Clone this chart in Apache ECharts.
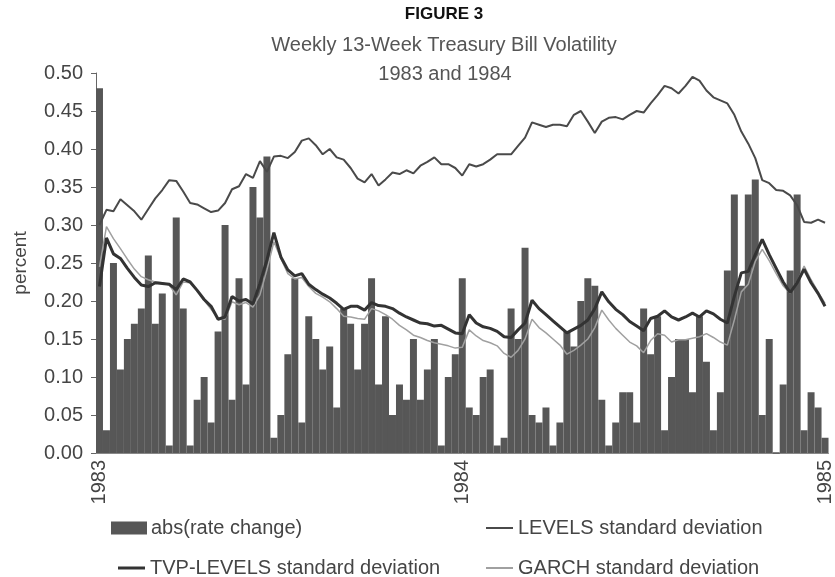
<!DOCTYPE html>
<html>
<head>
<meta charset="utf-8">
<title>Figure 3</title>
<script src="https://cdn.jsdelivr.net/npm/echarts@6/dist/echarts.min.js"></script>
<style>
  html, body { margin: 0; padding: 0; background: #fff; }
  #chart { width: 835px; height: 577px; }
</style>
</head>
<body>
<div id="chart"></div>
<script>
// weekly observations, 1983 and 1984
var yearLabels = ['1983', '1984', '1985'];
var yearTickIndex = [0, 52, 104];

var absRateChange = [
  0.48, 0.03, 0.25, 0.11, 0.15, 0.17, 0.19, 0.26, 0.17, 0.21,
  0.01, 0.31, 0.19, 0.01, 0.07, 0.10, 0.04, 0.16, 0.30, 0.07,
  0.23, 0.09, 0.35, 0.31, 0.39, 0.02, 0.05, 0.13, 0.23, 0.04,
  0.18, 0.15, 0.11, 0.14, 0.06, 0.19, 0.17, 0.11, 0.17, 0.23,
  0.09, 0.18, 0.05, 0.09, 0.07, 0.15, 0.07, 0.11, 0.15, 0.01,
  0.10, 0.13, 0.23, 0.06, 0.05, 0.10, 0.11, 0.01, 0.02, 0.19,
  0.15, 0.27, 0.05, 0.04, 0.06, 0.01, 0.04, 0.16, 0.14, 0.20,
  0.23, 0.22, 0.07, 0.01, 0.04, 0.08, 0.08, 0.04, 0.19, 0.13,
  0.18, 0.03, 0.10, 0.15, 0.15, 0.08, 0.18, 0.12, 0.03, 0.08,
  0.24, 0.34, 0.22, 0.34, 0.36, 0.05, 0.15, 0.00, 0.09, 0.24,
  0.34, 0.03, 0.08, 0.06, 0.02
];

var levelsSD = [
  0.300, 0.320, 0.318, 0.334, 0.326, 0.318, 0.307, 0.321, 0.335, 0.346,
  0.359, 0.358, 0.344, 0.329, 0.327, 0.322, 0.317, 0.319, 0.329, 0.347,
  0.351, 0.367, 0.362, 0.384, 0.370, 0.390, 0.391, 0.388, 0.396, 0.411,
  0.414, 0.405, 0.393, 0.400, 0.389, 0.386, 0.375, 0.361, 0.356, 0.367,
  0.352, 0.360, 0.369, 0.367, 0.372, 0.368, 0.378, 0.383, 0.389, 0.380,
  0.380, 0.375, 0.365, 0.380, 0.377, 0.380, 0.386, 0.393, 0.393, 0.393,
  0.404, 0.415, 0.435, 0.432, 0.429, 0.432, 0.432, 0.430, 0.445, 0.450,
  0.436, 0.421, 0.436, 0.441, 0.442, 0.439, 0.445, 0.450, 0.448, 0.460,
  0.471, 0.483, 0.480, 0.473, 0.483, 0.495, 0.490, 0.477, 0.468, 0.464,
  0.460, 0.445, 0.423, 0.407, 0.388, 0.359, 0.355, 0.346, 0.345, 0.339,
  0.326, 0.304, 0.303, 0.307, 0.303
];

var tvpLevelsSD = [
  0.219, 0.283, 0.262, 0.256, 0.243, 0.231, 0.221, 0.219, 0.224, 0.223,
  0.222, 0.215, 0.229, 0.225, 0.214, 0.202, 0.193, 0.176, 0.179, 0.206,
  0.200, 0.202, 0.196, 0.223, 0.254, 0.290, 0.258, 0.241, 0.233, 0.236,
  0.222, 0.215, 0.209, 0.204, 0.197, 0.189, 0.193, 0.193, 0.188, 0.198,
  0.194, 0.193, 0.190, 0.184, 0.179, 0.175, 0.171, 0.170, 0.167, 0.168,
  0.163, 0.158, 0.157, 0.182, 0.171, 0.166, 0.164, 0.160, 0.153, 0.152,
  0.162, 0.171, 0.201, 0.190, 0.182, 0.174, 0.166, 0.158, 0.163, 0.168,
  0.175, 0.190, 0.212, 0.199, 0.189, 0.182, 0.173, 0.167, 0.161, 0.177,
  0.180, 0.187, 0.179, 0.175, 0.179, 0.184, 0.179, 0.187, 0.183, 0.176,
  0.171, 0.206, 0.237, 0.239, 0.261, 0.281, 0.261, 0.243, 0.225, 0.211,
  0.224, 0.242, 0.224, 0.210, 0.193
];

var garchSD = [
  0.245, 0.298, 0.282, 0.269, 0.255, 0.242, 0.232, 0.228, 0.225, 0.224,
  0.221, 0.208, 0.225, 0.224, 0.214, 0.201, 0.189, 0.177, 0.176, 0.199,
  0.195, 0.198, 0.192, 0.208, 0.241, 0.278, 0.256, 0.236, 0.229, 0.231,
  0.219, 0.210, 0.205, 0.199, 0.190, 0.180, 0.179, 0.177, 0.176, 0.190,
  0.187, 0.182, 0.176, 0.168, 0.162, 0.155, 0.152, 0.148, 0.145, 0.143,
  0.141, 0.138, 0.139, 0.162, 0.154, 0.148, 0.145, 0.141, 0.131, 0.126,
  0.135, 0.150, 0.176, 0.165, 0.158, 0.150, 0.142, 0.130, 0.135, 0.142,
  0.150, 0.165, 0.188, 0.175, 0.164, 0.155, 0.146, 0.141, 0.132, 0.148,
  0.157, 0.155, 0.146, 0.149, 0.149, 0.151, 0.153, 0.157, 0.152, 0.146,
  0.142, 0.175, 0.212, 0.222, 0.252, 0.268, 0.253, 0.236, 0.220, 0.210,
  0.225, 0.246, 0.228, 0.212, 0.197
];

// one category per week
var weeks = [];
for (var i = 0; i < absRateChange.length; i++) {
  weeks.push('w' + (i + 1));
}

var FONT = "'Liberation Sans', Arial, Helvetica, sans-serif";
var TEXT_COLOR = '#454545';

var myChart = echarts.init(document.getElementById('chart'), null, { renderer: 'canvas' });

var option = {
  animation: false,
  backgroundColor: '#fff',
  textStyle: { fontFamily: FONT },
  title: [
    {
      text: 'FIGURE 3',
      left: 439, top: 1, textAlign: 'center',
      textStyle: { fontSize: 17, fontWeight: 'bold', color: '#111', fontFamily: FONT }
    },
    {
      text: 'Weekly 13-Week Treasury Bill Volatility',
      left: 439, top: 30, textAlign: 'center',
      textStyle: { fontSize: 20, fontWeight: 'normal', color: '#555', fontFamily: FONT }
    },
    {
      text: '1983 and 1984',
      left: 440, top: 59, textAlign: 'center',
      textStyle: { fontSize: 20, fontWeight: 'normal', color: '#555', fontFamily: FONT }
    }
  ],
  legend: [
    {
      data: ['abs(rate change)'],
      left: 106, top: 513,
      icon: 'rect', itemWidth: 34, itemHeight: 11,
      textStyle: { fontSize: 20, color: TEXT_COLOR, fontFamily: FONT }
    },
    {
      data: ['LEVELS standard deviation'],
      left: 481, top: 513,
      icon: 'rect', itemWidth: 27, itemHeight: 2,
      textStyle: { fontSize: 20, color: TEXT_COLOR, fontFamily: FONT }
    },
    {
      data: ['TVP-LEVELS standard deviation'],
      left: 113, top: 553,
      icon: 'rect', itemWidth: 27, itemHeight: 3,
      textStyle: { fontSize: 20, color: TEXT_COLOR, fontFamily: FONT }
    },
    {
      data: ['GARCH standard deviation'],
      left: 481, top: 553,
      icon: 'rect', itemWidth: 27, itemHeight: 2,
      textStyle: { fontSize: 20, color: TEXT_COLOR, fontFamily: FONT }
    }
  ],
  grid: {
    left: 96,
    right: 0,
    top: 73,
    bottom: 124,
    containLabel: false
  },
  xAxis: {
    type: 'category',
    data: weeks,
    boundaryGap: true,
    axisLine: { show: true, lineStyle: { color: '#888', width: 1 } },
    axisTick: { show: false },
    splitLine: { show: false },
    axisLabel: {
      rotate: 90,
      margin: 7,
      fontSize: 20,
      color: TEXT_COLOR,
      padding: [0, 0, 5, 0],
      interval: function (index) {
        return yearTickIndex.indexOf(index) >= 0;
      },
      formatter: function (value, index) {
        var k = yearTickIndex.indexOf(index);
        return k >= 0 ? yearLabels[k] : '';
      }
    }
  },
  yAxis: {
    type: 'value',
    min: 0,
    max: 0.5,
    interval: 0.05,
    name: 'percent',
    nameLocation: 'middle',
    nameGap: 66,
    nameTextStyle: { fontSize: 19, color: TEXT_COLOR, fontFamily: FONT },
    axisLine: { show: true, lineStyle: { color: '#666', width: 1 } },
    axisTick: { show: true, inside: false, length: 5, lineStyle: { color: '#666' } },
    splitLine: { show: false },
    axisLabel: {
      margin: 13,
      fontSize: 20,
      color: TEXT_COLOR,
      formatter: function (v) { return v.toFixed(2); }
    }
  },
  series: [
    {
      name: 'abs(rate change)',
      type: 'bar',
      data: absRateChange,
      barCategoryGap: '0%',
      // same-colour border closes the hairline gaps between neighbouring bars
      itemStyle: { color: '#575757', borderColor: '#575757', borderWidth: 1.6 },
      z: 1
    },
    {
      name: 'GARCH standard deviation',
      type: 'line',
      data: garchSD,
      symbol: 'none',
      lineStyle: { color: '#a0a0a0', width: 1.5 },
      itemStyle: { color: '#a0a0a0' },
      z: 2
    },
    {
      name: 'TVP-LEVELS standard deviation',
      type: 'line',
      data: tvpLevelsSD,
      symbol: 'none',
      lineStyle: { color: '#333', width: 3 },
      itemStyle: { color: '#333' },
      z: 3
    },
    {
      name: 'LEVELS standard deviation',
      type: 'line',
      data: levelsSD,
      symbol: 'none',
      lineStyle: { color: '#4a4a4a', width: 2 },
      itemStyle: { color: '#4a4a4a' },
      z: 4
    }
  ]
};

myChart.setOption(option, true);
</script>
</body>
</html>
